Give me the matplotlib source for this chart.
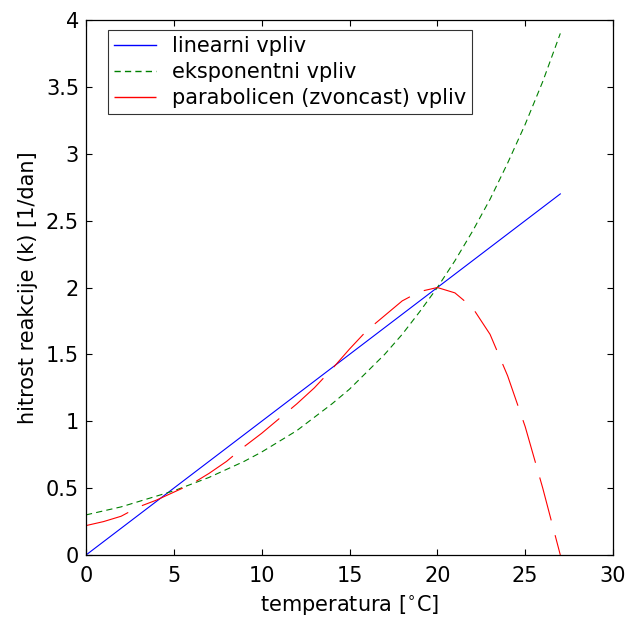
import numpy as np
import matplotlib
matplotlib.use("Agg")
import matplotlib.pyplot as plt

plt.rcParams["font.family"] = ["DejaVu Sans"]
plt.rcParams["lines.scale_dashes"] = False

# temperature [°C]
temp = list(range(0, 28))
# linear influence
k_lin = [0.0, 0.1, 0.2, 0.3, 0.4, 0.5, 0.6, 0.7, 0.8, 0.9, 1.0, 1.1, 1.2, 1.3,
         1.4, 1.5, 1.6, 1.7, 1.8, 1.9, 2.0, 2.1, 2.2, 2.3, 2.4, 2.5, 2.6, 2.7]
# exponential influence
k_exp = [0.30, 0.33, 0.36, 0.40, 0.44, 0.48, 0.53, 0.58, 0.64, 0.70, 0.77, 0.85,
         0.93, 1.03, 1.13, 1.24, 1.37, 1.50, 1.65, 1.82, 2.00, 2.20, 2.42, 2.66,
         2.93, 3.22, 3.54, 3.90]
# parabolic (bell-shaped) influence
k_par = [0.22, 0.25, 0.29, 0.36, 0.41, 0.47, 0.53, 0.61, 0.70, 0.81, 0.91, 1.02,
         1.13, 1.25, 1.39, 1.54, 1.68, 1.79, 1.90, 1.97, 2.00, 1.96, 1.85, 1.65,
         1.34, 0.96, 0.50, 0.0]

fs = 15

fig = plt.figure(figsize=(6.29, 6.18), dpi=100)
ax = fig.add_axes([0.1367, 0.1019, 0.8379, 0.8657])

ax.plot(temp, k_lin, color="#0000ff", lw=0.8, label="linearni vpliv")
ax.plot(temp, k_exp, color="#008000", lw=0.8, linestyle=(0, (4.5, 3.0)),
        label="eksponentni vpliv")
ax.plot(temp, k_par, color="#ff0000", lw=0.8, linestyle=(0, (32, 11)),
        label="parabolicen (zvoncast) vpliv")

ax.set_xlim(0, 30)
ax.set_ylim(0, 4)
ax.set_xticks([0, 5, 10, 15, 20, 25, 30])
ax.set_yticks([0, 0.5, 1, 1.5, 2, 2.5, 3, 3.5, 4])
ax.set_yticklabels(["0", "0.5", "1", "1.5", "2", "2.5", "3", "3.5", "4"])
ax.tick_params(direction="in", top=True, right=True, length=4, width=0.8,
               labelsize=fs, pad=5)
ax.tick_params(axis="x", pad=8)
for s in ax.spines.values():
    s.set_linewidth(0.9)

ax.set_xlabel(r"temperatura [$^{\circ}$C]", fontsize=fs, labelpad=5)
ax.set_ylabel("hitrost reakcije (k) [1/dan]", fontsize=fs, labelpad=6)

leg = ax.legend(loc="upper left", bbox_to_anchor=(0.042, 0.981), fontsize=fs,
                handlelength=2.0, handletextpad=0.75, labelspacing=0.28,
                borderpad=0.3, borderaxespad=0, frameon=True, fancybox=False)
leg.get_frame().set_edgecolor("black")
leg.get_frame().set_linewidth(0.8)
for h in leg.get_lines():
    h.set_linewidth(1.0)

fig.savefig("out.png", dpi=100)
